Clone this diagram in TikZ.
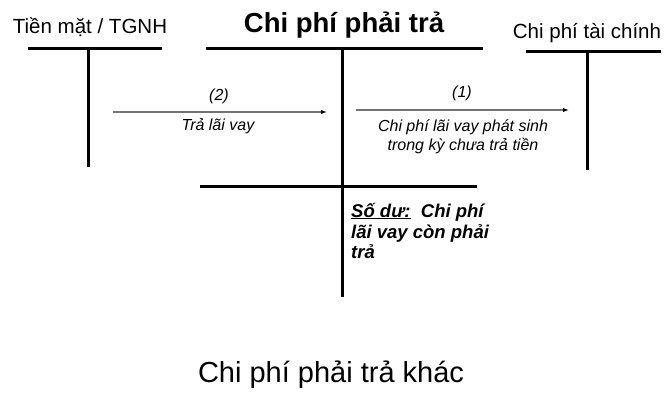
\documentclass[tikz,border=0pt]{standalone}
\usepackage{fontspec}
\setmainfont{Liberation Sans}
\usetikzlibrary{arrows.meta}
\begin{document}
\begin{tikzpicture}[x=1pt,y=-1pt,
  tline/.style={line width=3pt},
  flow/.style={line width=1.2pt,draw=black!55,-{Latex[length=6pt,width=4.5pt,color=black]}},
  lbl/.style={inner sep=0pt,anchor=base,font=\fontsize{16}{19}\selectfont\itshape},
  acct/.style={inner sep=0pt,anchor=base,font=\fontsize{20.5}{24}\selectfont},
  bal/.style={inner sep=0pt,anchor=base west,font=\fontsize{18.5}{20.5}\selectfont\bfseries\itshape}]
\useasboundingbox (0,0) rectangle (667,392);
% account titles
\node[acct] (tm) at (90,33) {Tiền mặt / TGNH};
\node[inner sep=0pt,anchor=base,font=\fontsize{27.5}{32}\selectfont\bfseries] (cp) at (344,32) {Chi phí phải trả};
\node[acct] (tc) at (587,38) {Chi phí tài chính};
% T accounts
\coordinate (l1) at (28,48); \coordinate (l2) at (162,48);
\coordinate (lt) at (88,48); \coordinate (lb) at (88,167);
\draw[tline] (l1) -- (l2);
\draw[tline] (lt) -- (lb);
\coordinate (m1) at (206,48); \coordinate (m2) at (483,48);
\coordinate (mt) at (342,48); \coordinate (mb) at (342,297);
\coordinate (n1) at (200,186); \coordinate (n2) at (477,186);
\draw[tline] (m1) -- (m2);
\draw[tline] (mt) -- (mb);
\draw[tline] (n1) -- (n2);
\coordinate (r1) at (526,51); \coordinate (r2) at (661,51);
\coordinate (rt) at (587,51); \coordinate (rb) at (587,170);
\draw[tline] (r1) -- (r2);
\draw[tline] (rt) -- (rb);
% flows
\coordinate (a2s) at (113,112); \coordinate (a2e) at (327,112);
\draw[flow] (a2s) -- (a2e);
\node[lbl] (n2a) at (219,100) {(2)};
\node[lbl] (n2b) at (218,130) {Trả lãi vay};
\coordinate (a1s) at (356,110); \coordinate (a1e) at (569,110);
\draw[flow] (a1s) -- (a1e);
\node[lbl] (n1a) at (462,97) {(1)};
\node[lbl] (n1b) at (463,131) {Chi phí lãi vay phát sinh};
\node[lbl] (n1c) at (463,150) {trong kỳ chưa trả tiền};
% balance
\node[bal] (sd1) at (351,217) {\underline{Số dư:}\ \ Chi phí};
\node[bal] (sd2) at (351,238) {lãi vay còn phải};
\node[bal] (sd3) at (351,258) {trả};
% footer
\node[inner sep=0pt,anchor=base,font=\fontsize{29}{34}\selectfont] (ft) at (331,382) {Chi phí phải trả khác};
\end{tikzpicture}
\end{document}
